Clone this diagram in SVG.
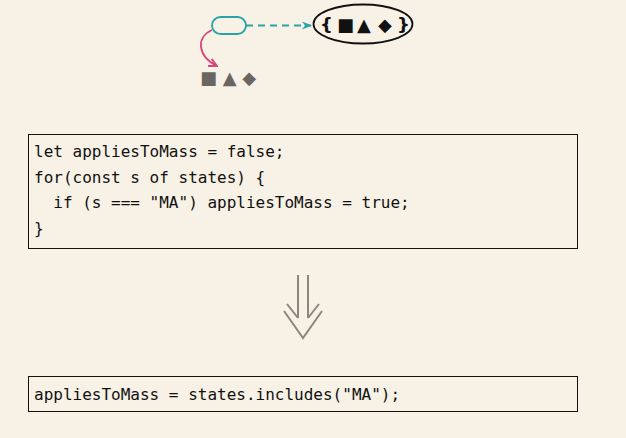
<svg xmlns="http://www.w3.org/2000/svg" width="626" height="438" viewBox="0 0 626 438">
<style>
.code{font-family:"DejaVu Sans Mono","Liberation Mono",monospace;font-size:16px;fill:#111;white-space:pre}
.box{fill:none;stroke:#111;stroke-width:1}
.shapes{font-family:"DejaVu Sans","Noto Sans",sans-serif;font-size:18px}
</style>
<defs>
<marker id="cyanHead" viewBox="0 0 10 10" refX="9" refY="5" markerWidth="10" markerHeight="10" markerUnits="userSpaceOnUse" orient="auto">
<path d="M0,1 L10,5 L0,9 L3,5 Z" fill="#2aa3a8"/>
</marker>
<marker id="pinkHead" viewBox="0 0 10 10" refX="9" refY="5" markerWidth="10" markerHeight="10" markerUnits="userSpaceOnUse" orient="auto">
<path d="M1,1 L9,5 L1,9" fill="none" stroke="#d9467d" stroke-width="1.8"/>
</marker>
</defs>
<rect width="626" height="438" fill="#f8f1e6"/>
<g id="connectors">
<path d="M246,25.5 L311,25.5" fill="none" stroke="#2aa3a8" stroke-width="1.9" stroke-dasharray="7,5" marker-end="url(#cyanHead)"/>
<path d="M212,30 C196,37 197,56 217,66" fill="none" stroke="#d9467d" stroke-width="1.8" marker-end="url(#pinkHead)"/>
<g fill="none" stroke="#8b867e" stroke-width="2">
<path d="M298,275 L298,318 M308,275 L308,318"/>
<path d="M287,304 L298,318 M308,318 L319,304"/>
<path d="M284,311 L303,338 L322,311"/>
</g>
</g>
<g id="node-var">
<rect x="212" y="17" width="34" height="17" rx="8.5" fill="none" stroke="#2aa3a8" stroke-width="1.8"/>
</g>
<g id="node-set">
<ellipse cx="363" cy="24" rx="49.5" ry="19.5" fill="none" stroke="#111" stroke-width="1.8"/>
<text class="shapes" x="320 329 337 350 357 371 378 391 397" y="31" font-weight="bold" fill="#111">{ ■ ▲ ◆ }</text>
</g>
<g id="node-items">
<text class="shapes" x="200" y="84" fill="#6b6661">■ ▲ ◆</text>
</g>
<g id="node-loop">
<rect class="box" x="28.5" y="134.5" width="549" height="114"/>
<text class="code" x="34" y="157">let appliesToMass = false;</text>
<text class="code" x="34" y="182.5">for(const s of states) {</text>
<text class="code" x="34" y="208">  if (s === "MA") appliesToMass = true;</text>
<text class="code" x="34" y="233.5">}</text>
</g>
<g id="node-includes">
<rect class="box" x="28.5" y="376.5" width="549" height="35"/>
<text class="code" x="34" y="399.5">appliesToMass = states.includes("MA");</text>
</g>
</svg>
